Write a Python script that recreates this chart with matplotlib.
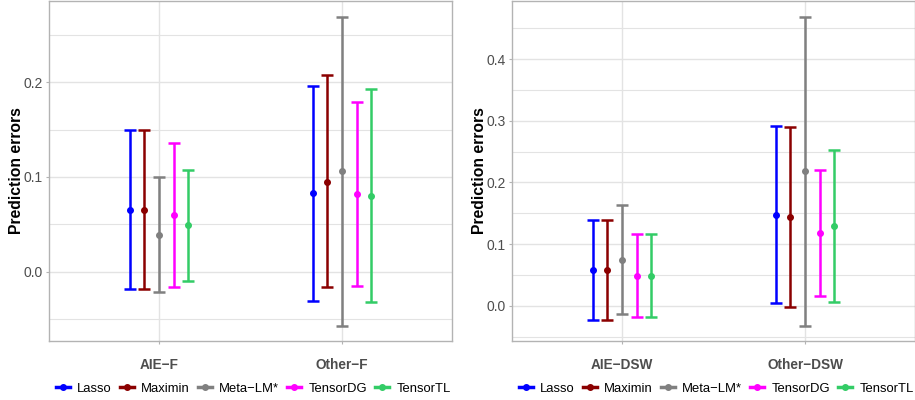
import numpy as np
import matplotlib.pyplot as plt
from matplotlib.lines import Line2D

plt.rcParams['font.family'] = ['Liberation Sans', 'DejaVu Sans']

# methods and colours
methods = ['Lasso', 'Maximin', 'Meta\u2212LM*', 'TensorDG', 'TensorTL']
colors = ['#0000FF', '#8B0000', '#808080', '#FF00FF', '#33CC66']

# left panel: F
cats_f = ['AIE\u2212F', 'Other\u2212F']
mean_f = [[0.0656, 0.0829], [0.0656, 0.0952], [0.0388, 0.1058], [0.0593, 0.0818], [0.0487, 0.0801]]
lo_f = [[-0.018, -0.031], [-0.018, -0.0162], [-0.0215, -0.0575], [-0.0162, -0.0152], [-0.0095, -0.0321]]
hi_f = [[0.1496, 0.1965], [0.1496, 0.2074], [0.0995, 0.2695], [0.1354, 0.1792], [0.1069, 0.1926]]

# right panel: DSW
cats_d = ['AIE\u2212DSW', 'Other\u2212DSW']
mean_d = [[0.0589, 0.1476], [0.0589, 0.1438], [0.0751, 0.2178], [0.0492, 0.1178], [0.0492, 0.1292]]
lo_d = [[-0.0222, 0.0043], [-0.0222, -0.0016], [-0.0135, -0.0324], [-0.0184, 0.0168], [-0.0184, 0.0059]]
hi_d = [[0.1395, 0.2908], [0.1395, 0.2903], [0.1638, 0.4686], [0.1173, 0.22], [0.1173, 0.2524]]

fig = plt.figure(figsize=(9.15, 4), dpi=100)
W, H = 915, 400
ax1 = fig.add_axes([49 / W, 59 / H, 403 / W, 340 / H])
ax2 = fig.add_axes([512 / W, 59 / H, 403 / W, 340 / H])


def panel(ax, cats, means, los, his, ylim, major, minor):
    x = np.arange(1, len(cats) + 1)
    for i, m in enumerate(methods):
        xs = x + (i - 2) * 0.08
        mu = np.array(means[i])
        err = [mu - np.array(los[i]), np.array(his[i]) - mu]
        ax.errorbar(xs, mu, yerr=err, fmt='o', color=colors[i], ms=4,
                    elinewidth=1.8, capsize=4, capthick=1.8, zorder=3)
    ax.set_xlim(0.4, 2.6)
    ax.set_ylim(*ylim)
    ax.set_xticks(x)
    ax.set_xticklabels(cats, fontsize=9.8, fontweight='bold', color='#4D4D4D')
    ax.set_yticks(major)
    ax.set_yticks(minor, minor=True)
    ax.set_yticklabels(['%.1f' % v for v in major], fontsize=10, color='#4D4D4D')
    ax.grid(True, which='major', color='#E3E3E3', lw=1.0, zorder=0)
    ax.grid(True, which='minor', axis='y', color='#E3E3E3', lw=0.8, zorder=0)
    ax.set_axisbelow(True)
    for s in ax.spines.values():
        s.set_color('#B3B3B3')
        s.set_linewidth(1.0)
    ax.tick_params(axis='both', which='major', color='#B3B3B3', length=2.5, pad=2)
    ax.tick_params(axis='x', pad=10)
    ax.tick_params(axis='y', which='minor', length=0)
    ax.set_ylabel('Prediction errors', fontsize=11.3, fontweight='bold')
    ax.yaxis.set_label_coords(-0.063, 0.5)
    handles = [Line2D([0], [0], color=c, lw=2.5, marker='o', ms=4) for c in colors]
    ax.legend(handles, methods, loc='center', bbox_to_anchor=(0.507, -0.141),
              ncol=5, frameon=False, fontsize=9.4, handlelength=1.08,
              handletextpad=0.54, columnspacing=0.62, borderaxespad=0, borderpad=0)


panel(ax1, cats_f, mean_f, lo_f, hi_f, (-0.0734, 0.286),
      [0.0, 0.1, 0.2], [-0.05, 0.05, 0.15, 0.25])
panel(ax2, cats_d, mean_d, lo_d, hi_d, (-0.0568, 0.494),
      [0.0, 0.1, 0.2, 0.3, 0.4], [-0.05, 0.05, 0.15, 0.25, 0.35, 0.45])

fig.savefig('out.png', dpi=100)
